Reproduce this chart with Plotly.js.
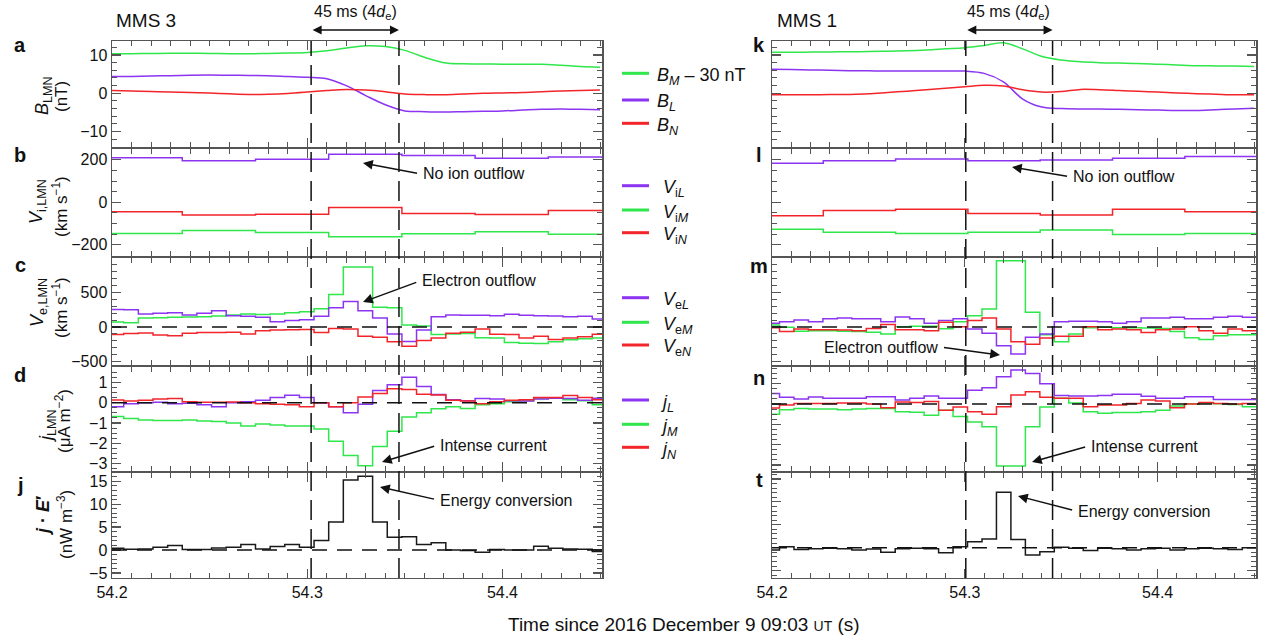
<!DOCTYPE html>
<html><head><meta charset="utf-8">
<script src="https://cdn.plot.ly/plotly-3.0.1.min.js"></script>
<style>html,body{margin:0;padding:0;background:#fff}#chart{width:1268px;height:642px}</style>
</head><body><div id="chart"></div>
<script>
// ---------------- DATA ----------------
// Magnetic field samples (s)
const tB = [54.20,54.21,54.22,54.23,54.24,54.25,54.26,54.27,54.28,54.29,54.30,54.31,54.32,54.33,54.34,54.35,54.36,54.37,54.38,54.39,54.40,54.41,54.42,54.43,54.44,54.45];
// MMS 3
const BM3 = [10.3,10.35,10.4,10.45,10.45,10.4,10.35,10.3,10.4,10.5,10.65,11.1,11.8,12.4,12.2,11.2,9.4,8.0,7.7,7.65,7.6,7.6,7.55,7.3,7.0,6.8];
const BL3 = [4.35,4.4,4.5,4.6,4.7,4.75,4.7,4.65,4.6,4.4,4.2,3.8,2.0,-0.6,-3.0,-4.6,-4.8,-4.9,-4.8,-4.7,-4.6,-4.4,-4.2,-4.1,-4.2,-4.3];
const BN3 = [0.7,0.6,0.45,0.3,0.2,0.05,-0.15,-0.3,-0.25,-0.05,0.3,0.7,1.0,0.85,0.4,-0.2,-0.35,-0.4,-0.2,0.0,0.1,0.2,0.4,0.6,0.75,0.85];
// MMS 1
const BM1 = [10.7,10.7,10.75,10.8,10.85,10.9,11.0,11.1,11.3,11.6,11.9,12.5,13.2,11.6,9.6,8.7,8.2,8.0,7.9,7.8,7.6,7.4,7.2,7.15,7.1,7.0];
const BL1 = [6.3,6.2,6.1,6.0,5.9,5.85,5.8,5.8,5.8,5.8,5.8,5.2,3.0,-1.5,-3.6,-4.0,-4.1,-4.1,-4.2,-4.3,-4.4,-4.5,-4.5,-4.3,-4.1,-3.9];
const BN1 = [-0.4,-0.4,-0.4,-0.35,-0.3,-0.15,0.2,0.55,0.9,1.3,1.7,2.1,1.9,0.9,0.3,0.45,1.0,0.9,0.7,0.5,0.3,0.1,-0.1,-0.25,-0.4,-0.4];

// Ion bins (edges, s)
const tIon3 = [54.1985,54.2360,54.2735,54.3110,54.3485,54.3860,54.4235,54.4610];
const tIon1 = [54.1891,54.2266,54.2641,54.3016,54.3391,54.3766,54.4141,54.4516];
const ViL3 = [210,196,202,226,220,207,213];
const ViM3 = [-146,-132,-142,-162,-148,-138,-150];
const ViN3 = [-44,-60,-56,-24,-52,-57,-38];
const ViL1 = [184,195,204,196,199,207,215];
const ViM1 = [-127,-141,-146,-141,-130,-151,-146];
const ViN1 = [-63,-39,-33,-52,-60,-33,-44];

// Electron bins (edges, s)
const tEl3 = [54.1985,54.2060,54.2135,54.2210,54.2285,54.2360,54.2435,54.2510,54.2585,54.2660,54.2735,54.2810,54.2885,54.2960,54.3035,54.3110,54.3185,54.3260,54.3335,54.3410,54.3485,54.3560,54.3635,54.3710,54.3785,54.3860,54.3935,54.4010,54.4085,54.4160,54.4235,54.4310,54.4385,54.4460,54.4535];
const tEl1 = [54.1964,54.2039,54.2114,54.2189,54.2264,54.2339,54.2414,54.2489,54.2564,54.2639,54.2714,54.2789,54.2864,54.2939,54.3014,54.3089,54.3164,54.3239,54.3314,54.3389,54.3464,54.3539,54.3614,54.3689,54.3764,54.3839,54.3914,54.3989,54.4064,54.4139,54.4214,54.4289,54.4364,54.4439,54.4514];
// MMS 3 electron velocity (km/s)
const VeL3 = [255,250,190,200,205,175,200,235,165,155,140,75,95,105,155,280,370,235,130,-100,-210,-45,150,175,170,170,165,185,170,165,160,150,155,115];
const VeM3 = [74,60,130,135,140,145,150,160,175,190,180,190,205,220,265,470,870,870,285,280,30,15,-110,-100,-95,-155,-160,-225,-235,-240,-215,-185,-170,-160];
const VeN3 = [-110,-95,-85,-115,-125,-90,-80,-80,-75,-100,-55,-45,-40,-35,-80,-20,-30,-135,-150,-215,-280,-195,-160,-90,-75,-30,-105,-110,-160,-135,-180,-160,-140,-105];
// MMS 1 electron velocity
const VeL1 = [55,75,100,75,120,130,120,120,75,145,120,55,95,120,-30,-90,-270,-390,-150,-100,75,85,85,75,55,75,130,130,140,120,120,140,155,140];
const VeM1 = [30,-5,-60,-55,-55,-60,-65,-75,-100,5,10,10,-25,75,165,260,960,960,213,-111,-215,-100,-10,-5,-10,-10,-15,-20,-65,-157,-180,-125,-111,-111];
const VeN1 = [-10,-65,-30,-40,-40,-45,-55,-20,35,-40,-40,-55,70,5,95,130,-30,-215,-250,-160,-135,-135,5,-40,-30,-40,-80,-40,-30,5,-55,-90,-30,-55];
// Current density (uA/m^2)
const jL3 = [-0.2,-0.05,0.0,0.02,-0.05,-0.03,-0.1,-0.2,0.0,0.05,0.12,0.26,0.36,0.25,0.0,-0.2,-0.5,-0.08,0.6,0.88,1.25,0.8,0.4,0.15,0.1,0.2,0.18,0.1,0.08,0.18,0.22,0.2,0.12,0.22];
const jM3 = [-0.68,-0.78,-0.85,-0.88,-0.87,-0.85,-0.9,-0.92,-1.0,-1.15,-1.05,-1.1,-1.15,-1.15,-1.3,-1.9,-2.6,-3.1,-2.15,-1.4,-0.7,-0.5,-0.3,-0.2,-0.28,-0.1,-0.05,0.05,0.1,0.2,0.22,0.15,0.1,-0.1];
const jN3 = [0.13,0.08,0.12,0.18,0.2,0.05,0.02,0.02,0.03,0.0,-0.05,-0.08,-0.1,-0.2,0.0,-0.2,0.0,0.28,0.45,0.68,0.65,0.42,0.38,0.12,0.08,-0.05,0.05,0.12,0.15,0.25,0.25,0.35,0.25,0.15];
const jL1 = [0.52,0.33,0.25,0.35,0.28,0.28,0.28,0.36,0.36,0.2,0.28,0.4,0.28,0.28,0.68,0.8,1.35,1.68,1.5,1.0,0.42,0.4,0.4,0.42,0.48,0.48,0.38,0.28,0.28,0.36,0.36,0.22,0.22,0.22];
const jM1 = [-0.5,-0.28,-0.22,-0.25,-0.25,-0.28,-0.25,-0.22,-0.22,-0.38,-0.4,-0.55,-0.3,-0.62,-0.88,-1.12,-3.05,-3.05,-1.12,-0.15,0.28,0.05,-0.38,-0.45,-0.42,-0.42,-0.38,-0.3,-0.1,0.02,0.05,0.02,-0.02,-0.13];
const jN1 = [-0.2,-0.05,0.03,0.03,0.03,0.05,0.05,0.0,-0.18,0.1,0.08,0.13,-0.3,-0.15,-0.38,-0.5,-0.13,0.45,0.6,0.33,0.28,0.28,-0.13,-0.05,-0.05,0.03,0.2,0.15,-0.18,0.0,0.08,0.03,0.0,0.03];
// Energy conversion j.E' (nW/m^3)
const jE3 = [0.4,0.15,0.2,0.6,1.0,0.1,0.1,0.45,0.6,1.2,0.2,0.75,1.2,0.6,2.1,6.1,15.3,16.1,6.1,2.8,2.9,1.2,1.6,0.0,-0.1,-0.5,0.1,0.0,0.0,0.8,0.4,0.2,0.15,-0.3];
const jE1 = [-0.5,0.2,-0.4,-0.2,-0.1,-0.2,-0.5,-0.3,-1.0,-0.2,-0.1,-0.2,-1.1,0.2,1.3,1.9,12.1,1.8,-1.6,-0.9,0.1,-0.1,-0.6,-0.1,-0.2,-0.5,-0.2,-0.1,-0.5,-0.2,-0.1,-0.2,-0.4,0.0];

// Reference times (dashed lines) and axis range
const dashT3 = [54.302, 54.347];
const dashT1 = [54.3005, 54.3455];
const xRange = [54.2, 54.451];

// Labels
const legB  = ['<i>B</i><sub><i>M</i></sub> – 30 nT', '<i>B</i><sub><i>L</i></sub>', '<i>B</i><sub><i>N</i></sub>'];
const legVi = ['<i>V</i><sub>i<i>L</i></sub>', '<i>V</i><sub>i<i>M</i></sub>', '<i>V</i><sub>i<i>N</i></sub>'];
const legVe = ['<i>V</i><sub>e<i>L</i></sub>', '<i>V</i><sub>e<i>M</i></sub>', '<i>V</i><sub>e<i>N</i></sub>'];
const legJ  = ['<i>j</i><sub><i>L</i></sub>', '<i>j</i><sub><i>M</i></sub>', '<i>j</i><sub><i>N</i></sub>'];
const yTitles = [
  ['<i>B</i><sub>LMN</sub>', '(nT)'],
  ['<i>V</i><sub>i,LMN</sub>', '(km s<sup>−1</sup>)'],
  ['<i>V</i><sub>e,LMN</sub>', '(km s<sup>−1</sup>)'],
  ['<i>j</i><sub>LMN</sub>', '(μA m<sup>−2</sup>)'],
  ['<b><i>j</i> · <i>E</i>′</b>', '(nW m<sup>−3</sup>)']
];
const panelLetters3 = ['a','b','c','d','j'];
const panelLetters1 = ['k','l','m','n','t'];
const notes = ['No ion outflow','Electron outflow','Intense current','Energy conversion'];

// ---------------- STYLE / LAYOUT ----------------
const GREEN = '#2fe64b', PURPLE = '#8c34f2', RED = '#f2262a', BLACK = '#1a1a1a';
const FONT = 'Liberation Sans, Arial, Helvetica, sans-serif';
const W = 1268, H = 642;
const PX = p => p / W, PY = p => 1 - p / H;

const colX = [[PX(112), PX(602)], [PX(772), PX(1256)]];
const rowPx = [[41,146.5],[148.5,255.5],[257.5,364.5],[366.5,471],[473,577.5]];
const rowY = rowPx.map(r => [PY(r[1]), PY(r[0])]);

const yRanges3 = [[-13.9,13.65],[-250,253],[-543,1007],[-3.36,1.78],[-6.0,16.8]];
const yRanges1 = [[-13.9,13.65],[-250,253],[-543,1007],[-3.3,1.85],[-6.5,16.3]];
const yTicks = [[-10,0,10],[-200,0,200],[-500,0,500],[-3,-2,-1,0,1],[-5,0,5,10,15]];
const yMinor = [2,50,100,0.25,1];

const traces = [];
function line(x, y, xa, ya, color, shape) {
  traces.push({type:'scatter', mode:'lines', x:x, y:y, xaxis:xa, yaxis:ya,
    line:{color:color, width:1.5, shape:shape||'linear', smoothing:1}, hoverinfo:'skip', showlegend:false});
}
function step(edges, vals, xa, ya, color) {
  line(edges, vals.concat([vals[vals.length-1]]), xa, ya, color, 'hv');
}

// MMS 3 (axes 1..5)
line(tB, BM3, 'x', 'y', GREEN, 'spline');
line(tB, BL3, 'x', 'y', PURPLE, 'spline');
line(tB, BN3, 'x', 'y', RED, 'spline');
step(tIon3, ViL3, 'x2', 'y2', PURPLE);
step(tIon3, ViM3, 'x2', 'y2', GREEN);
step(tIon3, ViN3, 'x2', 'y2', RED);
step(tEl3, VeM3, 'x3', 'y3', GREEN);
step(tEl3, VeL3, 'x3', 'y3', PURPLE);
step(tEl3, VeN3, 'x3', 'y3', RED);
step(tEl3, jM3, 'x4', 'y4', GREEN);
step(tEl3, jL3, 'x4', 'y4', PURPLE);
step(tEl3, jN3, 'x4', 'y4', RED);
step(tEl3, jE3, 'x5', 'y5', BLACK);
// MMS 1 (axes 6..10)
line(tB, BM1, 'x6', 'y6', GREEN, 'spline');
line(tB, BL1, 'x6', 'y6', PURPLE, 'spline');
line(tB, BN1, 'x6', 'y6', RED, 'spline');
step(tIon1, ViL1, 'x7', 'y7', PURPLE);
step(tIon1, ViM1, 'x7', 'y7', GREEN);
step(tIon1, ViN1, 'x7', 'y7', RED);
step(tEl1, VeM1, 'x8', 'y8', GREEN);
step(tEl1, VeL1, 'x8', 'y8', PURPLE);
step(tEl1, VeN1, 'x8', 'y8', RED);
step(tEl1, jM1, 'x9', 'y9', GREEN);
step(tEl1, jL1, 'x9', 'y9', PURPLE);
step(tEl1, jN1, 'x9', 'y9', RED);
step(tEl1, jE1, 'x10', 'y10', BLACK);

const layout = {
  width: W, height: H, margin:{l:0,r:0,t:0,b:0}, paper_bgcolor:'#fff', plot_bgcolor:'#fff',
  font:{family:FONT, size:16, color:'#111'}, showlegend:false,
  shapes:[], annotations:[]
};
const FRAME = '#555';
for (let c = 0; c < 2; c++) {
  for (let r = 0; r < 5; r++) {
    const n = c*5 + r + 1;
    const xk = n === 1 ? 'xaxis' : 'xaxis' + n;
    const yk = n === 1 ? 'yaxis' : 'yaxis' + n;
    const yid = n === 1 ? 'y' : 'y' + n;
    const xid = n === 1 ? 'x' : 'x' + n;
    layout[xk] = {domain: colX[c], range: xRange, anchor: yid, showline:true, linecolor:FRAME, linewidth:1.5,
      mirror:'ticks', ticks:'inside', ticklen:9, tickwidth:1.2, tickcolor:FRAME, tick0:54.2, dtick:0.1,
      tickformat:'.1f', showgrid:false, zeroline:false, showticklabels: r === 4, tickfont:{size:16, color:'#111'},
      minor:{tick0:54.2, dtick:0.01, ticklen:5, tickwidth:1, tickcolor:FRAME, ticks:'inside'}, fixedrange:true};
    const rng = c === 0 ? yRanges3[r] : yRanges1[r];
    layout[yk] = {domain: rowY[r], range: rng, anchor: xid, showline:true, linecolor:FRAME, linewidth:1.5,
      mirror:'ticks', ticks:'inside', ticklen:9, tickwidth:1.2, tickcolor:FRAME, tickmode:'array', tickvals:yTicks[r],
      showgrid:false, zeroline:false, showticklabels: c === 0, tickfont:{size:16, color:'#111'},
      minor:{tick0:0, dtick:yMinor[r], ticklen:5, tickwidth:1, tickcolor:FRAME, ticks:'inside'}, fixedrange:true};
    if (r >= 2) {
      layout.shapes.push({type:'line', xref: xid + ' domain', x0:0, x1:1, yref: yid, y0:0, y1:0,
        line:{color:'#111', width:1.5, dash:'15px,10px'}});
    }
  }
}
// vertical dashed lines
[[dashT3,'x'],[dashT1,'x6']].forEach(([ts, xr]) => ts.forEach(t => layout.shapes.push({type:'line', xref:xr, x0:t, x1:t,
  yref:'paper', y0:PY(578), y1:PY(41), line:{color:'#111', width:1.5, dash:'20px,9px'}})));

const A = layout.annotations;
function txt(text, xpx, ypx, opts) {
  A.push(Object.assign({text:text, xref:'paper', yref:'paper', x:PX(xpx), y:PY(ypx), showarrow:false,
    xanchor:'center', yanchor:'middle', font:{family:FONT, size:16, color:'#111'}}, opts||{}));
}
// note text whose left edge is the arrow tail; arrow runs from the text to the head
function note(text, tailX, tailY, headX, headY) {
  A.push({text:text, xref:'paper', yref:'paper', x:PX(headX), y:PY(headY), ax:tailX-headX, ay:tailY-headY,
    axref:'pixel', ayref:'pixel', xanchor:'left', yanchor:'middle', showarrow:true, arrowhead:2, arrowsize:1.3,
    arrowwidth:1.5, arrowcolor:'#111', standoff:0, startstandoff:4, borderpad:1,
    font:{family:FONT, size:16, color:'#111'}});
}
// titles
txt('MMS 3', 114, 20, {xanchor:'left', font:{family:FONT, size:19, color:'#111'}});
txt('MMS 1', 775, 20, {xanchor:'left', font:{family:FONT, size:19, color:'#111'}});
// 45 ms
[[dashT3,'x',355],[dashT1,'x6',1008]].forEach(([ts, xr, cx]) => {
  txt('45 ms (4<i>d</i><sub>e</sub>)', cx, 12);
  A.push({text:'', xref:xr, yref:'paper', x:ts[1], y:PY(30), axref:xr, ax:ts[0], ayref:'pixel', ay:0,
    showarrow:true, arrowside:'end+start', arrowhead:2, arrowsize:1.2, arrowwidth:1.5, arrowcolor:'#111', standoff:0, startstandoff:0});
});
// panel letters
const letterY3 = [45,155,265,375,485], letterY1 = [45,155,266,378,480];
panelLetters3.forEach((s,i) => txt('<b>'+s+'</b>', 20, letterY3[i], {font:{family:FONT, size:20, color:'#111'}}));
panelLetters1.forEach((s,i) => txt('<b>'+s+'</b>', 759, letterY1[i], {font:{family:FONT, size:20, color:'#111'}}));
// y titles
const yt1 = [[43,96],[38,202],[38,303],[47,426],[43,516]];
const yt2 = [[62,97],[60,207],[60,308],[63,421],[65,525]];
yTitles.forEach((t,i) => {
  txt(t[0], yt1[i][0], yt1[i][1], {textangle:-90, font:{family:FONT, size:18, color:'#111'}});
  txt(t[1], yt2[i][0], yt2[i][1], {textangle:-90, font:{family:FONT, size:17, color:'#111'}});
});
// x title
txt('Time since 2016 December 9 09:03 <span style="font-size:14px">UT</span> (s)', 684, 624, {font:{family:FONT, size:19, color:'#111'}});
// legends
const legGroups = [[legB,[GREEN,PURPLE,RED],[73.3,100,123.3],655],[legVi,[PURPLE,GREEN,RED],[185.7,210,232.7],661],
  [legVe,[PURPLE,GREEN,RED],[297.7,322.3,345],661],[legJ,[PURPLE,GREEN,RED],[400,424.3,447.3],658]];
legGroups.forEach(([labels, cols, ys, tx]) => labels.forEach((lab, i) => {
  layout.shapes.push({type:'line', xref:'paper', yref:'paper', x0:PX(622), x1:PX(649), y0:PY(ys[i]), y1:PY(ys[i]),
    line:{color:cols[i], width:3}});
  txt(lab, tx, ys[i]+3, {xanchor:'left', font:{family:FONT, size:18, color:'#111'}});
}));
// notes with arrows (MMS 3 then MMS 1)
note(notes[0], 421, 174, 363, 163);
note(notes[1], 420, 281, 363, 302);
note(notes[2], 438, 445, 382, 462);
note(notes[3], 438, 500, 380, 487);
note(notes[0], 1071, 177, 1012, 167);
note(notes[2], 1089, 446, 1032, 462);
note(notes[3], 1076, 511, 1018, 496);
// right "Electron outflow": text sits left of the arrow tail
A.push({text:notes[1], xref:'paper', yref:'paper', x:PX(1000), y:PY(355), ax:940-1000, ay:347-355,
  axref:'pixel', ayref:'pixel', xanchor:'right', yanchor:'middle', showarrow:true, arrowhead:2, arrowsize:1.3,
  arrowwidth:1.5, arrowcolor:'#111', standoff:0, startstandoff:4, borderpad:1, font:{family:FONT, size:16, color:'#111'}});

Plotly.newPlot('chart', traces, layout, {staticPlot:true, displayModeBar:false});
</script></body></html>
